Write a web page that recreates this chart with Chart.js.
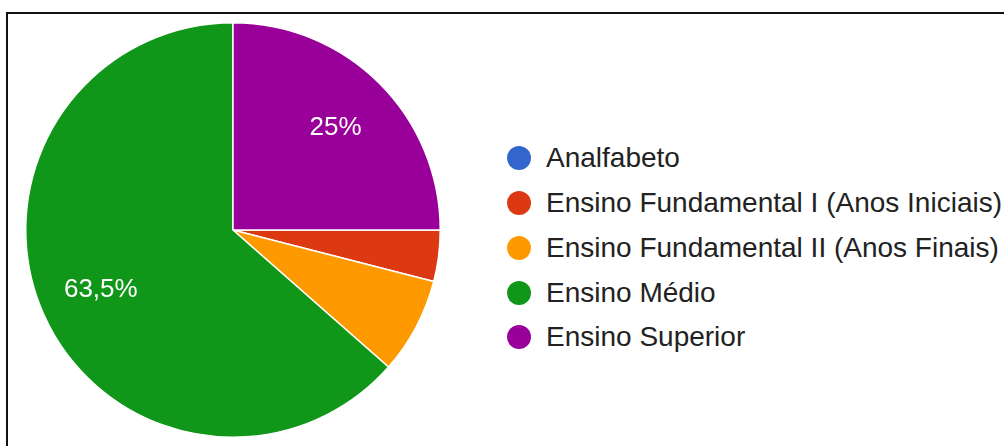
<!DOCTYPE html>
<html>
<head>
<meta charset="utf-8">
<script src="https://cdn.jsdelivr.net/npm/chart.js@4"></script>
<style>
  html, body { margin: 0; padding: 0; background: #fff; overflow: hidden; }
  body { width: 1004px; height: 446px; position: relative; font-family: "Liberation Sans", Arial, sans-serif; }
  #frame { position: absolute; left: 6px; top: 12px; width: 1020px; height: 460px; border: 2px solid #111; box-sizing: border-box; }
  #wrap { position: absolute; left: 0; top: 0; width: 466px; height: 446px; }
  #legend { position: absolute; left: 507px; top: 136px; margin: 0; padding: 0; list-style: none; }
  #legend li { height: 44.75px; display: flex; align-items: center; font-size: 28px; color: #222; white-space: nowrap; }
  #legend span.dot { width: 24px; height: 24px; border-radius: 50%; display: inline-block; margin-right: 15px; }
</style>
</head>
<body>
<div id="frame"></div>
<div id="wrap"><canvas id="chart1"></canvas></div>
<ul id="legend"></ul>
<script>
/** Escolaridade **/
const labels = [
	'Analfabeto',
	'Ensino Fundamental I (Anos Iniciais)',
	'Ensino Fundamental II (Anos Finais)',
	'Ensino Médio',
	'Ensino Superior'
];

const values = [0, 4, 7.5, 63.5, 25];

const colors = [
	'#3366cc',
	'#dc3912',
	'#ff9900',
	'#109618',
	'#990099'
];

// porcentagens dentro das fatias (so as grandes)
const sliceLabels = {
	id: 'sliceLabels',
	afterDatasetsDraw(chart) {
		const ctx = chart.ctx;
		const meta = chart.getDatasetMeta(0);
		ctx.save();
		ctx.font = '26px "Liberation Sans", Arial, sans-serif';
		ctx.fillStyle = '#ffffff';
		ctx.textAlign = 'center';
		ctx.textBaseline = 'middle';
		meta.data.forEach(function(arc, i) {
			if (values[i] < 10) return;
			const p = arc.getProps(['x', 'y', 'startAngle', 'endAngle', 'outerRadius'], true);
			const mid = (p.startAngle + p.endAngle) / 2;
			const r = p.outerRadius * 0.7;
			const txt = String(values[i]).replace('.', ',') + '%';
			ctx.fillText(txt, p.x + Math.cos(mid) * r, p.y + Math.sin(mid) * r);
		});
		ctx.restore();
	}
};

const config1 = {
	type: 'pie',
	data: {
		labels: labels,
		datasets: [{
			data: values,
			backgroundColor: colors,
			borderColor: '#ffffff',
			borderWidth: 1.5
		}]
	},
	options: {
		responsive: true,
		maintainAspectRatio: false,
		animation: false,
		rotation: 90,
		layout: {
			padding: { left: 25, right: 25, top: 22, bottom: 8 }
		},
		plugins: {
			legend: false,
			tooltip: { enabled: false }
		}
	},
	plugins: [sliceLabels]
};

const chart1 = new Chart(
	document.getElementById('chart1'),
	config1
);

// legenda em html
const ul = document.getElementById('legend');
labels.forEach(function(lbl, i) {
	const li = document.createElement('li');
	const dot = document.createElement('span');
	dot.className = 'dot';
	dot.style.background = colors[i];
	li.appendChild(dot);
	li.appendChild(document.createTextNode(lbl));
	ul.appendChild(li);
});
</script>
</body>
</html>
